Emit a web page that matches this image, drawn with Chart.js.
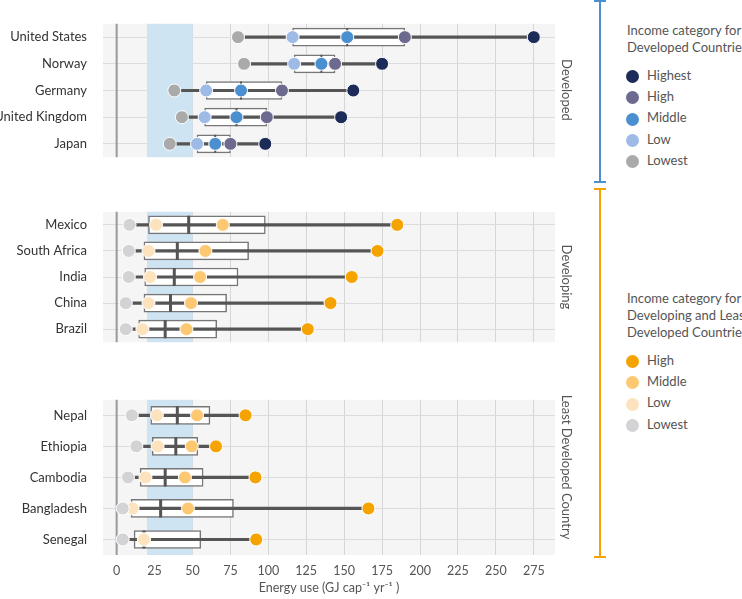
<!DOCTYPE html>
<html><head><meta charset="utf-8">
<script src="https://cdn.jsdelivr.net/npm/chart.js@4/dist/chart.umd.min.js"></script>
<style>
body{margin:0;width:742px;height:599px;position:relative;background:#fff;font-family:Lato,sans-serif;color:#555;overflow:hidden}
.c{position:absolute;left:0;width:560px}
.rot{position:absolute;font-size:13px;color:#555;transform:translate(-50%,-50%) rotate(90deg);white-space:nowrap}
.br{position:absolute;width:2px}
.cap{position:absolute;height:2px;width:12px}
.lt{position:absolute;left:627px;font-size:13px;line-height:17px;color:#555;white-space:nowrap}
.li{position:absolute;left:626px;font-size:13px;color:#555;height:14px;line-height:14px;white-space:nowrap}
.li span{display:inline-block;width:13px;height:13px;border-radius:50%;vertical-align:middle;margin-right:8px}
</style></head><body>
<div class="c" style="top:0;height:181px"><canvas id="c1"></canvas></div>
<div class="c" style="top:188px;height:178px"><canvas id="c2"></canvas></div>
<div class="c" style="top:376px;height:223px"><canvas id="c3"></canvas></div>
<div class="rot" style="left:567px;top:90px">Developed</div>
<div class="rot" style="left:567px;top:277px">Developing</div>
<div class="rot" style="left:567px;top:467px">Least Developed Country</div>
<div class="br" style="left:599px;top:0;height:183px;background:#4a8fd0"></div>
<div class="cap" style="left:594px;top:181px;background:#4a8fd0"></div>
<div class="cap" style="left:594px;top:0;background:#4a8fd0"></div>
<div class="br" style="left:599px;top:188px;height:369px;background:#f5a300"></div>
<div class="cap" style="left:594px;top:188px;background:#f5a300"></div>
<div class="cap" style="left:594px;top:556px;background:#f5a300"></div>
<div class="lt" style="top:22px">Income category for<br>Developed Countries</div>
<div class="lt" style="top:290px">Income category for<br>Developing and Least<br>Developed Countries</div>
<div id="leg"></div>
<script>
// ---- data ----
const xTicks=[0,25,50,75,100,125,150,175,200,225,250,275];
const devCats=["United States","Norway","Germany","United Kingdom","Japan"];
const devLowest=[80,84,38,43,35];
const devLow=[116,117,59,58,53];
const devMiddle=[152,135,82,79,65];
const devHigh=[190,144,109,99,75];
const devHighest=[275,175,156,148,98];

const dgCats=["Mexico","South Africa","India","China","Brazil"];
const dgLowest=[8.5,8,8,6,6];
const dgLow=[26,21,22,21,17];
const dgMiddle=[70,58.5,55,49,46];
const dgHigh=[185,172,155,141,126];
const dgQ1=[21,18,18.5,18,14.5];
const dgMedian=[47.5,40,38,35.5,32];
const dgQ3=[98,87,80,72.5,66];

const ldCats=["Nepal","Ethiopia","Cambodia","Bangladesh","Senegal"];
const ldLowest=[10,13,7.5,4,4];
const ldLow=[26.5,27,19,10.5,18];
const ldMiddle=[53,49.5,45,47,18];
const ldHigh=[85,65.5,91.5,166,92];
const ldQ1=[22.5,23.5,15.5,9.5,11.5];
const ldMedian=[40,39,32,29,18];
const ldQ3=[61.5,53.5,57,77,55.5];

const band=[20,50];
const devColors={Highest:"#1c2b57",High:"#6c6a8e",Middle:"#4a8fd0",Low:"#9dbbe6",Lowest:"#aaaaaa"};
const dgColors={High:"#f5a300",Middle:"#fdc872",Low:"#fde3bd",Lowest:"#d3d3d6"};

const leg=document.getElementById('leg');
function addLeg(colors,y0){Object.keys(colors).forEach((k,i)=>{const d=document.createElement('div');d.className='li';d.style.top=(y0+i*21.2-7)+'px';d.innerHTML='<span style="background:'+colors[k]+'"></span>'+k;leg.appendChild(d);});}
addLeg(devColors,75);addLeg(dgColors,360);

const bg={id:'bg',beforeDraw(c){const a=c.chartArea,x=c.ctx;x.save();x.fillStyle='#f5f5f5';x.fillRect(a.left,a.top,a.right-a.left,a.bottom-a.top);x.restore();},
beforeDatasetsDraw(c){const a=c.chartArea,x=c.ctx,s=c.scales.x;x.save();x.fillStyle='#cfe4f3';const l=s.getPixelForValue(band[0]),r=s.getPixelForValue(band[1]);x.fillRect(l,a.top,r-l,a.bottom-a.top);
x.strokeStyle='#999';x.lineWidth=2;const z=s.getPixelForValue(0);x.beginPath();x.moveTo(z,a.top);x.lineTo(z,a.bottom);x.stroke();x.restore();}};

function pts(cats,vals,color){return {type:'scatter',order:0,data:cats.map((c,i)=>({x:vals[i],y:c})),backgroundColor:color,borderColor:'#fff',borderWidth:1,pointRadius:6.5,pointHoverRadius:6.5};}

function make(id,cats,lo,hi,q1,q3,med,series,showX,medW){
 const ds=[
  {type:'bar',order:3,grouped:false,data:cats.map((c,i)=>[q1[i],q3[i]]),backgroundColor:'#fff',borderColor:'#777',borderWidth:1.5,borderSkipped:false,barThickness:18},
  {type:'bar',order:2,grouped:false,data:cats.map((c,i)=>[lo[i],hi[i]]),backgroundColor:'#555',borderWidth:0,barThickness:2.5},
  {type:'scatter',order:1,data:cats.map((c,i)=>({x:med[i],y:c})),pointStyle:'line',rotation:90,pointRadius:9,borderColor:'#555',borderWidth:medW,backgroundColor:'#555'},
 ].concat(series);
 new Chart(document.getElementById(id),{type:'bar',data:{labels:cats,datasets:ds},
 options:{indexAxis:'y',responsive:true,maintainAspectRatio:false,animation:false,
  layout:{autoPadding:false,padding:{right:5,top:0,bottom:0,left:0}},
  plugins:{legend:{display:false},tooltip:{enabled:false}},
  scales:{
   x:{type:'linear',min:-9,max:289,afterBuildTicks:s=>{s.ticks=xTicks.map(v=>({value:v}));},
      afterFit:s=>{s.height=showX?44:0;},
      grid:{color:'#d6d6d6',drawTicks:false},border:{display:false},
      ticks:{display:showX,color:'#555',font:{family:'Lato',size:12.5},padding:8},
      title:{display:showX,text:'Energy use (GJ cap⁻¹ yr⁻¹ )',color:'#555',font:{family:'Lato',size:12.5},padding:{top:4}}},
   y:{type:'category',offset:true,grid:{offset:false,color:'#dcdcdc',drawTicks:false},border:{display:false},
      afterFit:s=>{s.width=103;},
      ticks:{color:'#333',font:{family:'Lato',size:13},padding:16}}
  }},plugins:[bg]});
}
make('c1',devCats,devLowest,devHighest,devLow,devHigh,devMiddle,[
 pts(devCats,devLowest,devColors.Lowest),pts(devCats,devLow,devColors.Low),pts(devCats,devMiddle,devColors.Middle),pts(devCats,devHigh,devColors.High),pts(devCats,devHighest,devColors.Highest)],false,2);
make('c2',dgCats,dgLowest,dgHigh,dgQ1,dgQ3,dgMedian,[
 pts(dgCats,dgLowest,dgColors.Lowest),pts(dgCats,dgLow,dgColors.Low),pts(dgCats,dgMiddle,dgColors.Middle),pts(dgCats,dgHigh,dgColors.High)],false,3);
make('c3',ldCats,ldLowest,ldHigh,ldQ1,ldQ3,ldMedian,[
 pts(ldCats,ldLowest,dgColors.Lowest),pts(ldCats,ldLow,dgColors.Low),pts(ldCats,ldMiddle,dgColors.Middle),pts(ldCats,ldHigh,dgColors.High)],true,3);
</script></body></html>
